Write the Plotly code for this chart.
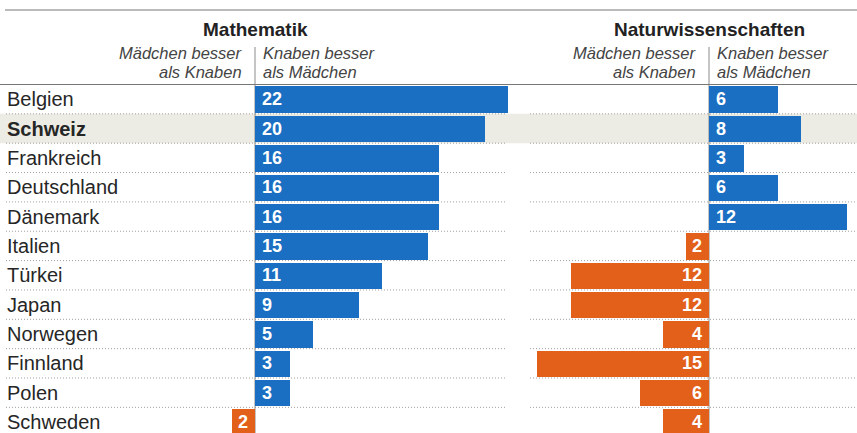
import plotly.graph_objects as go

countries = ["Belgien", "Schweiz", "Frankreich", "Deutschland", "Dänemark", "Italien",
             "Türkei", "Japan", "Norwegen", "Finnland", "Polen", "Schweden"]
math_vals = [22, 20, 16, 16, 16, 15, 11, 9, 5, 3, 3, -2]
natur_vals = [6, 8, 3, 6, 12, -2, -12, -12, -4, -15, -6, -4]
highlight = "Schweiz"

panel_titles = ["Mathematik", "Naturwissenschaften"]
left_caption = ["Mädchen besser", "als Knaben"]
right_caption = ["Knaben besser", "als Mädchen"]

BLUE = "#1a6fc2"
ORANGE = "#e2601a"
BEIGE = "#edece4"
FONT = "Liberation Sans"

W, H = 857, 433
top_px = 84.5
pitch = 29.35
n = len(countries)
y_bottom = -0.5 + (H - top_px) / pitch
ydom_top = (H - top_px) / H
px_unit = 11.5

def col(v):
    return BLUE if v >= 0 else ORANGE

fig = go.Figure()
idx = list(range(n))
fig.add_trace(go.Bar(x=math_vals, y=idx, orientation="h", width=0.9,
                     marker=dict(color=[col(v) for v in math_vals], line=dict(width=0)),
                     xaxis="x", yaxis="y", hoverinfo="skip", showlegend=False))
fig.add_trace(go.Bar(x=natur_vals, y=idx, orientation="h", width=0.9,
                     marker=dict(color=[col(v) for v in natur_vals], line=dict(width=0)),
                     xaxis="x2", yaxis="y", hoverinfo="skip", showlegend=False))

m_zero, m_left, m_right = 255, 0, 530
n_zero, n_left, n_right = 709, 530, 857

def ax(left, right, zero):
    return dict(domain=[left / W, right / W],
                range=[(left - zero) / px_unit, (right - zero) / px_unit],
                showgrid=False, zeroline=False, showticklabels=False, showline=False,
                fixedrange=True)

shapes = []
hi = countries.index(highlight)
hy_top = top_px + hi * pitch
hy_bot = top_px + (hi + 1) * pitch
shapes.append(dict(type="rect", xref="paper", yref="paper", x0=0, x1=1,
                   y0=1 - hy_bot / H, y1=1 - hy_top / H,
                   fillcolor=BEIGE, line=dict(width=0), layer="below"))
for k in range(1, n):
    yk = 1 - (top_px + k * pitch) / H
    for x0, x1 in [(6, 506), (530, 857)]:
        shapes.append(dict(type="line", xref="paper", yref="paper", x0=x0 / W, x1=x1 / W,
                           y0=yk, y1=yk,
                           line=dict(color="#a0a0a0", width=1, dash="1px,2px"), layer="below"))
shapes.append(dict(type="line", xref="paper", yref="paper", x0=5 / W, x1=1,
                   y0=1 - 10 / H, y1=1 - 10 / H, line=dict(color="#777", width=1)))
shapes.append(dict(type="line", xref="paper", yref="paper", x0=0, x1=1,
                   y0=1 - top_px / H, y1=1 - top_px / H, line=dict(color="#777", width=1)))
for xr in ["x", "x2"]:
    shapes.append(dict(type="line", xref=xr, yref="paper", x0=0, x1=0,
                       y0=0, y1=1 - 47 / H, line=dict(color="#8a8a8a", width=1), layer="below"))

ann = []
for i, c in enumerate(countries):
    txt = f"<b>{c}</b>" if c == highlight else c
    ann.append(dict(text=txt, xref="paper", yref="y", x=5 / W, y=i, xanchor="left",
                    yanchor="middle", showarrow=False,
                    font=dict(family=FONT, size=20, color="#262626")))
for vals, xr in [(math_vals, "x"), (natur_vals, "x2")]:
    for i, v in enumerate(vals):
        ann.append(dict(text=f"<b>{abs(v)}</b>", xref=xr, yref="y", x=0, y=i,
                        xanchor="left" if v >= 0 else "right",
                        xshift=5 if v >= 0 else -5, yanchor="middle", showarrow=False,
                        font=dict(family=FONT, size=18, color="white")))
for title, xr in zip(panel_titles, ["x", "x2"]):
    ann.append(dict(text=f"<b>{title}</b>", xref=xr, yref="paper", x=0, y=1 - 29 / H,
                    xanchor="center", yanchor="middle", showarrow=False,
                    font=dict(family=FONT, size=19, color="#222")))
    for line_txt, ypx in zip(left_caption, [53, 72]):
        ann.append(dict(text=f"<i>{line_txt}</i>", xref=xr, yref="paper", x=0, y=1 - ypx / H,
                        xanchor="right", xshift=-11, yanchor="middle", showarrow=False,
                        font=dict(family=FONT, size=16.5, color="#444")))
    for line_txt, ypx in zip(right_caption, [53, 72]):
        ann.append(dict(text=f"<i>{line_txt}</i>", xref=xr, yref="paper", x=0, y=1 - ypx / H,
                        xanchor="left", xshift=6, yanchor="middle", showarrow=False,
                        font=dict(family=FONT, size=16.5, color="#444")))

fig.update_layout(
    width=W, height=H, margin=dict(l=0, r=0, t=0, b=0),
    paper_bgcolor="white", plot_bgcolor="rgba(0,0,0,0)",
    xaxis=ax(m_left, m_right, m_zero),
    xaxis2=ax(n_left, n_right, n_zero),
    yaxis=dict(domain=[0, ydom_top], range=[y_bottom, -0.5], showgrid=False, zeroline=False,
               showticklabels=False, fixedrange=True),
    bargap=0, shapes=shapes, annotations=ann, showlegend=False,
)
fig.write_html("out.html", config={"displayModeBar": False},
               post_script="document.body.style.margin='0px';document.body.style.overflow='hidden';")
